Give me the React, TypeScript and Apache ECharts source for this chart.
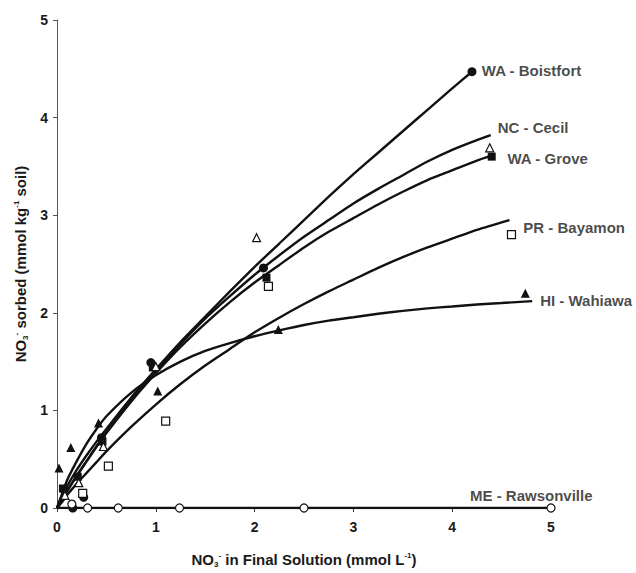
import React, { useEffect, useRef } from "react";
import * as echarts from "echarts";

// Measured points [NO3 in solution, NO3 sorbed]
const boistfortPts = [[0.07, 0.19], [0.16, 0.0], [0.27, 0.11], [0.45, 0.72], [0.95, 1.49], [2.09, 2.46], [4.2, 4.47]];
const cecilPts = [[0.08, 0.13], [0.22, 0.26], [0.47, 0.63], [1.0, 1.45], [2.02, 2.77], [4.38, 3.69]];
const grovePts = [[0.06, 0.2], [0.21, 0.32], [0.46, 0.68], [0.97, 1.44], [2.12, 2.36], [4.4, 3.6]];
const bayamonPts = [[0.26, 0.15], [0.52, 0.43], [1.1, 0.89], [2.14, 2.27], [4.6, 2.8]];
const wahiawaPts = [[0.02, 0.41], [0.14, 0.62], [0.42, 0.87], [1.02, 1.2], [2.24, 1.83], [4.74, 2.2]];
const rawsonvillePts = [[0.15, 0.04], [0.31, 0.0], [0.62, 0.0], [1.24, 0.0], [2.5, 0.0], [5.0, 0.0]];

// Fitted curves (x grid shared, each curve ends at its own last point)
const fitX = [0, 0.05, 0.1, 0.2, 0.3, 0.4, 0.5, 0.75, 1, 1.25, 1.5, 1.75, 2, 2.25, 2.5, 2.75, 3, 3.25, 3.5, 3.75, 4, 4.25, 4.5];
const boistfortCurve = [0, 0.13, 0.22, 0.39, 0.54, 0.68, 0.81, 1.13, 1.42, 1.7, 1.96, 2.22, 2.47, 2.71, 2.95, 3.19, 3.42, 3.64, 3.86, 4.08, 4.3];
const boistfortEnd = [4.2, 4.47];
const cecilCurve = [0, 0.08, 0.17, 0.33, 0.48, 0.63, 0.77, 1.1, 1.4, 1.68, 1.94, 2.17, 2.39, 2.59, 2.78, 2.95, 3.12, 3.27, 3.41, 3.55, 3.67, 3.77];
const cecilEnd = [4.39, 3.82];
const groveCurve = [0, 0.08, 0.17, 0.33, 0.48, 0.63, 0.77, 1.09, 1.38, 1.65, 1.89, 2.11, 2.31, 2.49, 2.67, 2.83, 2.97, 3.11, 3.24, 3.36, 3.46, 3.56];
const groveEnd = [4.4, 3.61];
const bayamonCurve = [0, 0.06, 0.13, 0.25, 0.36, 0.47, 0.58, 0.83, 1.06, 1.27, 1.46, 1.63, 1.8, 1.95, 2.09, 2.22, 2.34, 2.46, 2.57, 2.67, 2.76, 2.85];
const bayamonEnd = [4.58, 2.95];
const wahiawaCurve = [0, 0.14, 0.28, 0.48, 0.66, 0.81, 0.94, 1.18, 1.36, 1.5, 1.61, 1.69, 1.76, 1.82, 1.875, 1.92, 1.955, 1.99, 2.02, 2.045, 2.065, 2.085, 2.1];
const wahiawaEnd = [4.81, 2.12];
const rawsonvilleCurve = [[0, 0], [5, 0]];

// Site labels [x, y, text]
const siteLabels: [number, number, string][] = [
  [4.3, 4.48, "WA - Boistfort"],
  [4.46, 3.9, "NC - Cecil"],
  [4.56, 3.58, "WA - Grove"],
  [4.72, 2.87, "PR - Bayamon"],
  [4.89, 2.13, "HI - Wahiawa"],
  [4.18, 0.13, "ME - Rawsonville"],
];

const xTicks = [0, 1, 2, 3, 4, 5];
const yTicks = [0, 1, 2, 3, 4, 5];

const FONT = "Liberation Sans, Arial, sans-serif";
const INK = "#1a1a1a";

function curve(ys: number[], end: number[]) {
  const pts = ys.map((y, i) => [fitX[i], y]);
  pts.push(end);
  return pts;
}

const richName = {
  sub: { fontFamily: FONT, fontWeight: "bold", fontSize: 8, color: INK, padding: [10, 0, 0, 0] },
  sup: { fontFamily: FONT, fontWeight: "bold", fontSize: 8, color: INK, padding: [0, 0, 8, 0] },
};

export default function App() {
  const ref = useRef<HTMLDivElement>(null);
  useEffect(() => {
    const chart = echarts.init(ref.current!, null, { renderer: "svg" });
    const lineSeries = (data: number[][]) => ({
      type: "line",
      data,
      smooth: 0.2,
      showSymbol: false,
      symbol: "none",
      silent: true,
      lineStyle: { color: "#111", width: 2.4 },
      z: 2,
    });
    const scat = (data: number[][], symbol: string, size: number, filled: boolean) => ({
      type: "scatter",
      data,
      symbol,
      symbolSize: size,
      clip: false,
      itemStyle: {
        color: filled ? "#111" : "#fff",
        borderColor: "#111",
        borderWidth: filled ? 0 : 1.2,
        opacity: 1,
      },
      z: 5,
    });
    chart.setOption({
      animation: false,
      backgroundColor: "#fff",
      grid: { left: 57, right: 85, top: 20, bottom: 57, containLabel: false },
      xAxis: {
        type: "value",
        min: 0,
        max: 5,
        interval: 1,
        splitLine: { show: false },
        axisLine: { show: true, onZero: false, lineStyle: { color: "#333", width: 1 } },
        axisTick: { show: true, length: 4, lineStyle: { color: "#333" } },
        axisLabel: {
          fontFamily: FONT,
          fontWeight: "bold",
          fontSize: 14,
          color: INK,
          margin: 12,
          formatter: (v: number) => (xTicks.includes(v) ? String(v) : ""),
        },
        name: "NO{sub|3}{sup|-} in Final Solution (mmol L{sup|-1})",
        nameLocation: "middle",
        nameGap: 42,
        nameTextStyle: { fontFamily: FONT, fontWeight: "bold", fontSize: 15, color: INK, rich: richName },
      },
      yAxis: {
        type: "value",
        min: 0,
        max: 5,
        interval: 1,
        splitLine: { show: false },
        axisLine: { show: true, onZero: false, lineStyle: { color: "#555", width: 1 } },
        axisTick: { show: true, length: 4, lineStyle: { color: "#555" } },
        axisLabel: {
          fontFamily: FONT,
          fontWeight: "bold",
          fontSize: 14,
          color: INK,
          margin: 9,
          formatter: (v: number) => (yTicks.includes(v) ? String(v) : ""),
        },
        name: "NO{sub|3}{sup|-} sorbed (mmol kg{sup|-1} soil)",
        nameLocation: "middle",
        nameGap: 27,
        nameTextStyle: { fontFamily: FONT, fontWeight: "bold", fontSize: 15, color: INK, rich: richName },
      },
      series: [
        lineSeries(curve(boistfortCurve, boistfortEnd)),
        lineSeries(curve(cecilCurve, cecilEnd)),
        lineSeries(curve(groveCurve, groveEnd)),
        lineSeries(curve(bayamonCurve, bayamonEnd)),
        lineSeries(curve(wahiawaCurve, wahiawaEnd)),
        { ...lineSeries(rawsonvilleCurve), smooth: false },
        scat(boistfortPts, "circle", 9, true),
        scat(grovePts, "rect", 8, true),
        scat(cecilPts, "triangle", 8, false),
        scat(bayamonPts, "rect", 8, false),
        scat(wahiawaPts, "triangle", 9, true),
        scat(rawsonvillePts, "circle", 8, false),
        {
          type: "scatter",
          data: siteLabels.map((l) => ({ value: [l[0], l[1]], name: l[2] })),
          symbolSize: 0,
          clip: false,
          silent: true,
          label: {
            show: true,
            position: "right",
            distance: 0,
            formatter: (p: any) => p.name,
            fontFamily: FONT,
            fontWeight: "bold",
            fontSize: 15,
            color: INK,
          },
          z: 6,
        },
      ],
    });
    return () => chart.dispose();
  }, []);
  return (
    <div
      ref={ref}
      style={{ position: "absolute", left: 0, top: 0, width: 636, height: 573 }}
    />
  );
}
